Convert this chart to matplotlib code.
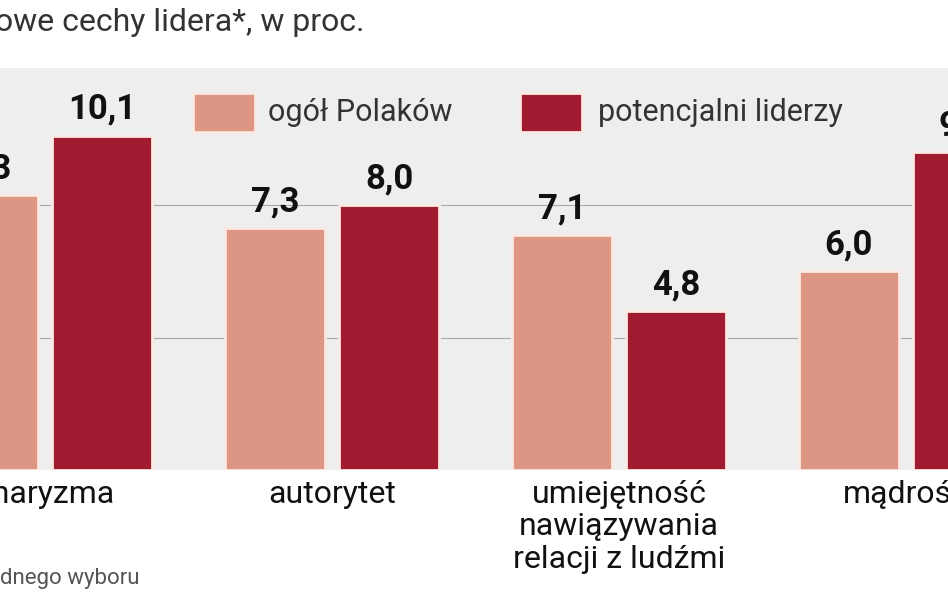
import matplotlib.pyplot as plt
import numpy as np

plt.rcParams['font.family'] = ['Roboto', 'DejaVu Sans']

categories = ["charyzma", "autorytet", "umiejętność\nnawiązywania\nrelacji z ludźmi", "mądrość"]
ogol = [8.3, 7.3, 7.1, 6.0]
liderzy = [10.1, 8.0, 4.8, 9.6]
ogol_labels = ["8,3", "7,3", "7,1", "6,0"]
liderzy_labels = ["10,1", "8,0", "4,8", "9,6"]

light = "#dc9683"
dark = "#a11b30"

fig = plt.figure(figsize=(9.48, 5.93), dpi=100)
ax = fig.add_axes([0, 0.2074, 1, 0.678])
ax.set_facecolor("#eeeeee")

x = np.arange(len(categories))
w = 0.348
off = 0.199
ax.bar(x - off, ogol, w, color=light, edgecolor="#fbe9e3", linewidth=2)
ax.bar(x + off, liderzy, w, color=dark, edgecolor="#fbe9e3", linewidth=2)

for xi, v, t in zip(x, ogol, ogol_labels):
    ax.text(xi - off, v + 0.3, t, ha="center", va="bottom", fontsize=25, fontweight="bold", color="#111111")
for xi, v, t in zip(x, liderzy, liderzy_labels):
    ax.text(xi + off, v + 0.3, t, ha="center", va="bottom", fontsize=25, fontweight="bold", color="#111111")

ax.set_xlim(-45 / 287, (948 - 45) / 287)
ax.set_ylim(0, 12.15)
for g in [4, 8]:
    ax.axhline(g, color="#aaaaaa", linewidth=0.8, zorder=0)
ax.set_xticks([])
ax.set_yticks([])
for s in ax.spines.values():
    s.set_visible(False)

for xi, c in zip(x, categories):
    ax.text(xi, -0.3, c, ha="center", va="top", fontsize=23, color="#111111", linespacing=1.15)

# legend
ax.bar([193 / 287 - 45 / 287 + 31 / 287], [1.2], 62 / 287, bottom=10.2, color=light, edgecolor="#fbe9e3", linewidth=2)
ax.bar([520 / 287 - 45 / 287 + 31 / 287], [1.2], 62 / 287, bottom=10.2, color=dark, edgecolor="#fbe9e3", linewidth=2)
ax.text(268 / 287 - 45 / 287, 10.8, "ogół Polaków", ha="left", va="center", fontsize=22, color="#333333")
ax.text(598 / 287 - 45 / 287, 10.8, "potencjalni liderzy", ha="left", va="center", fontsize=22, color="#333333")

fig.text(-0.005, 0.962, "owe cechy lidera*, w proc.", ha="left", va="center", fontsize=23, color="#333333")
fig.text(0.0, 0.025, "dnego wyboru", ha="left", va="center", fontsize=16, color="#555555")

fig.savefig("out.png", dpi=100)
